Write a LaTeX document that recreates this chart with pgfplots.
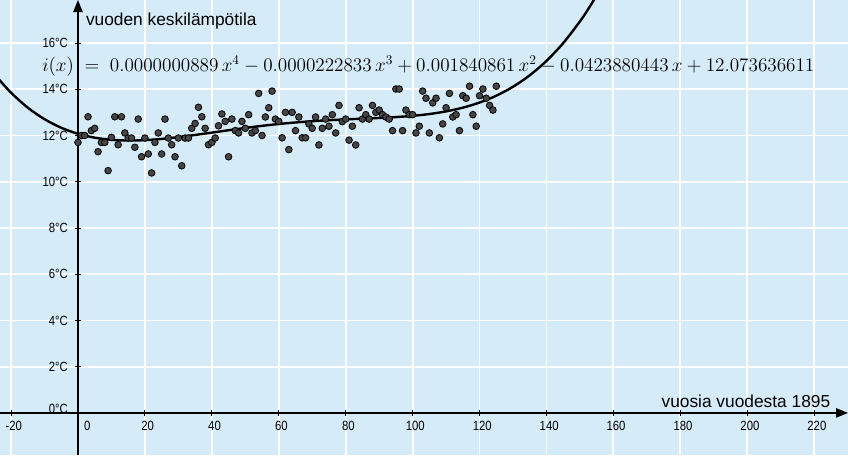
\documentclass[border=0pt]{standalone}
\usepackage[no-math]{fontspec}
\setmainfont{Liberation Sans}
\newfontfamily\tickfont[FakeStretch=0.85]{Liberation Sans}
\usepackage{pgfplots}
\pgfplotsset{compat=1.18}
\usetikzlibrary{arrows.meta}
\definecolor{ggbg}{RGB}{214,235,248}
\definecolor{ptfill}{RGB}{70,70,70}

\pgfplotstableread{
x y
0 11.70
1 12.00
2 12.00
3 12.81
4 12.21
5 12.31
6 11.30
7 11.70
8 11.70
9 10.48
10 11.92
11 12.81
12 11.60
13 12.81
14 12.11
15 11.89
16 11.89
17 11.49
18 12.71
19 11.08
20 11.89
21 11.20
22 10.38
23 11.70
24 12.11
25 11.20
26 12.71
27 11.89
28 11.60
29 11.08
30 11.89
31 10.69
32 11.89
33 11.89
34 12.31
35 12.52
36 13.22
37 12.81
38 12.31
39 11.60
40 11.70
41 11.89
42 12.42
43 12.93
44 12.61
45 11.08
46 12.71
47 12.21
48 12.11
49 12.61
50 12.31
51 12.90
52 12.11
53 12.21
54 13.82
55 12.00
56 12.80
57 13.20
58 13.92
59 12.71
60 12.61
61 11.90
62 13.00
63 11.39
64 13.00
65 12.21
66 12.80
67 11.90
68 11.90
69 12.50
70 12.31
71 12.80
72 11.59
73 12.31
74 12.71
75 12.40
76 12.90
77 12.11
78 13.30
79 12.60
80 12.71
81 11.80
82 12.40
83 11.59
84 13.20
85 12.71
86 12.90
87 12.71
88 13.30
89 13.00
90 13.10
91 12.90
92 12.80
93 12.71
94 12.21
95 14.01
96 14.01
97 12.21
98 13.10
99 12.90
100 12.90
101 12.11
102 12.40
103 13.92
104 13.61
105 12.11
106 13.41
107 13.61
108 11.90
109 12.50
110 13.20
111 13.82
112 12.80
113 12.90
114 12.21
115 13.72
116 13.61
117 14.13
118 12.90
119 12.40
120 13.72
121 14.01
122 13.61
123 13.30
124 13.10
125 14.13
}\temps

\begin{document}
\begin{tikzpicture}
\begin{axis}[
  name=ax,
  scale only axis, width=636pt, height=341.25pt,
  xmin=-23.3, xmax=230.1, ymin=-1.82, ymax=17.86,
  axis lines=middle,
  axis line style={draw=black, line width=1pt, -{Triangle[length=9pt,width=7pt]}},
  axis background/.style={fill=ggbg},
  grid=major,
  major grid style={white, line width=1.4pt},
  xtick={-20,20,40,...,220},
  ytick={2,4,...,16},
  extra x ticks={0}, extra y ticks={0},
  extra tick style={grid=none},
  extra x tick style={xticklabel style={anchor=north west, xshift=-1pt}},
  extra y tick style={yticklabel style={yshift=3pt}},
  hide obscured x ticks=false, hide obscured y ticks=false,
  tick align=center, major tick length=4pt,
  tick style={black, line width=0.7pt},
  xticklabel={\pgfmathprintnumber[assume math mode=true]{\tick}},
  yticklabel={\pgfmathprintnumber[assume math mode=true]{\tick}°C},
  xticklabel style={font=\tickfont\fontsize{10}{12}\selectfont, anchor=north, xshift=2pt, yshift=-1pt},
  yticklabel style={font=\tickfont\fontsize{10}{12}\selectfont, anchor=east, xshift=-2pt},
  clip=true,
]
\addplot[black, line width=1.8pt, smooth] coordinates {
(-24,14.4888) (-20,13.8502) (-15,13.2034) (-10,12.7048) (-5,12.3344) (0,12.0736)
(5,11.9050) (10,11.8125) (15,11.7813) (20,11.7982) (25,11.8510) (30,11.9291)
(35,12.0231) (40,12.1249) (45,12.2279) (50,12.3266) (55,12.4171) (60,12.4964)
(65,12.5634) (70,12.6180) (75,12.6615) (80,12.6964) (85,12.7268) (90,12.7579)
(95,12.7964) (100,12.8501) (105,12.9285) (110,13.0422) (115,13.2030) (120,13.4242)
(125,13.7206) (130,14.1081) (135,14.6039) (140,15.2266) (145,15.9964) (150,16.9343)
(152.5,17.4732) (155,18.0631) (157,18.5733) (160,19.4067)
};
\addplot[only marks, mark=*, mark size=2.5pt,
  mark options={fill=ptfill, draw=black, line width=0.6pt}] table {\temps};
\node[anchor=west, font=\fontsize{13}{15}\selectfont] at (axis cs:1.0,16.95) {vuoden keskilämpötila};
\node[anchor=east, font=\fontsize{13}{15}\selectfont] at (axis cs:226.2,0.50) {vuosia vuodesta 1895};
\node[anchor=center, font=\fontsize{14.9}{18}\selectfont] at (axis cs:104.7,15.02)
  {$i(x) \;=\; 0.0000000889\,x^4 - 0.0000222833\,x^3 + 0.001840861\,x^2 - 0.0423880443\,x + 12.073636611$};
\end{axis}
\pgfresetboundingbox
\path (ax.south west) rectangle (ax.north east);
\end{tikzpicture}
\end{document}
